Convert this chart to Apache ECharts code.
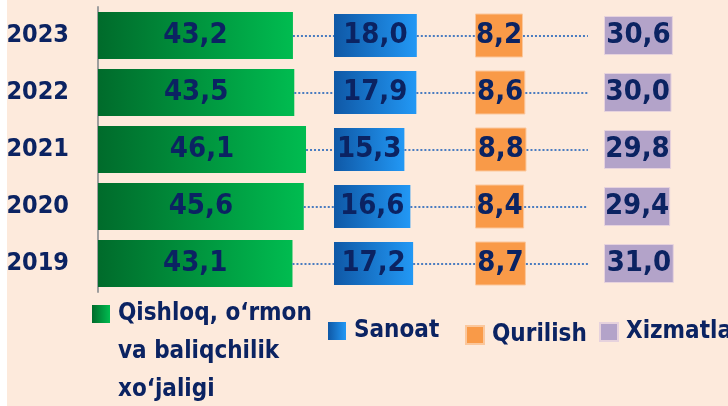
<!DOCTYPE html>
<html><head><meta charset="utf-8">
<script src="https://cdn.jsdelivr.net/npm/echarts@6/dist/echarts.min.js"></script>
<style>html,body{margin:0;padding:0;background:#FDEADC}#c{width:728px;height:406px}</style>
</head><body><div id="c"></div>
<script>
const years = ['2019', '2020', '2021', '2022', '2023'];
const agriculture = [43.1, 45.6, 46.1, 43.5, 43.2];
const industry = [17.2, 16.6, 15.3, 17.9, 18.0];
const construction = [8.7, 8.4, 8.8, 8.6, 8.2];
const services = [31.0, 29.4, 29.8, 30.0, 30.6];
const seriesNames = ['Qishloq, o‘rmon va baliqchilik xo‘jaligi', 'Sanoat', 'Qurilish', 'Xizmatlar'];

const FONT = '"DejaVu Sans Condensed", "DejaVu Sans", sans-serif';
const NAVY = '#0B2362';
const maxes = [52.3, 30.65, 22.05, 55.1];
const constructionLineEnd = 19.3;

const fmt = v => v.toFixed(1).replace('.', ',');
const grad = (a, b) => new echarts.graphic.LinearGradient(0, 0, 1, 0, [{offset: 0, color: a}, {offset: 1, color: b}]);

const gridBase = {top: 7, height: 285, containLabel: false, outerBoundsMode: 'none'};
const grids = [
  Object.assign({left: 98, width: 236}, gridBase),
  Object.assign({left: 334, width: 141}, gridBase),
  Object.assign({left: 475, width: 129}, gridBase),
  Object.assign({left: 604, width: 124}, gridBase)
];

const xAxes = maxes.map((m, i) => ({type: 'value', gridIndex: i, min: 0, max: m, show: false}));
const yAxes = grids.map((g, i) => ({
  type: 'category', gridIndex: i, data: years,
  show: i === 0,
  axisLine: {show: i === 0, lineStyle: {color: '#9E9E9E', width: 2}},
  axisTick: {show: false},
  splitLine: {show: false},
  axisLabel: {show: i === 0, margin: 29, color: NAVY, fontFamily: FONT, fontWeight: 'bold', fontSize: 25}
}));

const dotted = {color: '#4A7CC0', width: 2, type: [2, 2]};
function connectors(vals, end) {
  return {
    silent: true, symbol: 'none', animation: false,
    label: {show: false}, lineStyle: dotted,
    data: years.map((y, i) => [{coord: [vals[i], y]}, {coord: [end, y]}])
  };
}

const labelStyle = {
  show: true, position: 'inside', formatter: p => fmt(p.value),
  color: NAVY, fontFamily: FONT, fontWeight: 'bold', fontSize: 29
};

const series = [
  {name: seriesNames[0], type: 'bar', xAxisIndex: 0, yAxisIndex: 0, data: agriculture, barWidth: 47,
   itemStyle: {color: grad('#006B2B', '#00BC50')}, label: labelStyle, markLine: connectors(agriculture, maxes[0])},
  {name: seriesNames[1], type: 'bar', xAxisIndex: 1, yAxisIndex: 1, data: industry, barWidth: 43,
   itemStyle: {color: grad('#0F58A6', '#2298F5')}, label: labelStyle, markLine: connectors(industry, maxes[1])},
  {name: seriesNames[2], type: 'bar', xAxisIndex: 2, yAxisIndex: 2, data: construction, barWidth: 44,
   itemStyle: {color: '#F99A48', borderColor: '#FBC79C', borderWidth: 1}, label: labelStyle, markLine: connectors(construction, constructionLineEnd)},
  {name: seriesNames[3], type: 'bar', xAxisIndex: 3, yAxisIndex: 3, data: services, barWidth: 39,
   itemStyle: {color: '#B3A3C9', borderColor: '#E6D2DD', borderWidth: 1}, label: labelStyle}
];

const legTxt = {color: NAVY, fontFamily: FONT, fontWeight: 'bold', fontSize: 24, lineHeight: 38, padding: [0, 0, 0, 3]};
const legendBase = {orient: 'horizontal', icon: 'rect', itemWidth: 18, itemHeight: 18, padding: 0, selectedMode: false};
const legends = [
  Object.assign({}, legendBase, {data: [seriesNames[0]], left: 92, top: 219,
    formatter: () => '\n\nQishloq, o‘rmon\nva baliqchilik\nxo‘jaligi',
    textStyle: legTxt}),
  Object.assign({}, legendBase, {data: [seriesNames[1]], left: 328, top: 312, textStyle: legTxt}),
  Object.assign({}, legendBase, {data: [seriesNames[2]], left: 465, top: 316, textStyle: legTxt}),
  Object.assign({}, legendBase, {data: [seriesNames[3]], left: 599, top: 313, textStyle: legTxt})
];

const chart = echarts.init(document.getElementById('c'), null, {renderer: 'canvas'});
chart.setOption({
  backgroundColor: '#FDEADC',
  animation: false,
  grid: grids, xAxis: xAxes, yAxis: yAxes, series: series, legend: legends,
  graphic: [{type: 'rect', left: 0, top: 0, shape: {width: 7, height: 406}, style: {fill: '#FFFFFF'}, silent: true}]
});
</script></body></html>
